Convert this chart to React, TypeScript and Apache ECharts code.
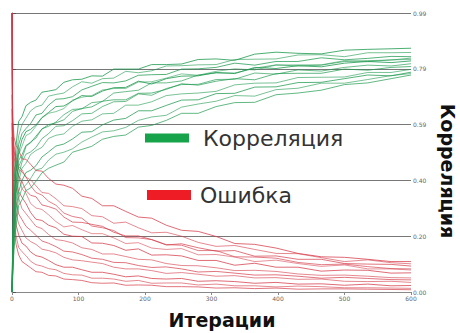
import React, { useEffect, useRef } from "react";
import * as echarts from "echarts";

// Iteration positions shared by all runs
const iterations = [0, 1, 3, 6, 10, 15, 21, 28, 36, 45, 55, 66, 78, 91, 105, 120, 136, 153, 171, 190, 210, 232, 255, 280, 307, 335, 365, 397, 430, 465, 500, 535, 570, 600];

// Correlation runs (green)
const corr1 = [0, 0.18, 0.38, 0.52, 0.605, 0.622, 0.661, 0.673, 0.681, 0.709, 0.713, 0.718, 0.744, 0.753, 0.755, 0.767, 0.766, 0.791, 0.791, 0.791, 0.807, 0.807, 0.809, 0.825, 0.827, 0.822, 0.844, 0.851, 0.847, 0.845, 0.858, 0.861, 0.863, 0.865];
const corr2 = [0, 0.15, 0.33, 0.47, 0.554, 0.594, 0.617, 0.643, 0.657, 0.663, 0.695, 0.701, 0.706, 0.728, 0.746, 0.741, 0.757, 0.759, 0.783, 0.778, 0.785, 0.802, 0.803, 0.806, 0.807, 0.825, 0.826, 0.827, 0.841, 0.842, 0.835, 0.849, 0.849, 0.85];
const corr3 = [0, 0.12, 0.30, 0.43, 0.523, 0.562, 0.58, 0.598, 0.628, 0.634, 0.663, 0.684, 0.686, 0.693, 0.717, 0.73, 0.743, 0.742, 0.749, 0.769, 0.771, 0.772, 0.791, 0.792, 0.797, 0.812, 0.805, 0.818, 0.818, 0.831, 0.824, 0.829, 0.836, 0.835];
const corr4 = [0, 0.10, 0.27, 0.39, 0.487, 0.517, 0.555, 0.564, 0.588, 0.618, 0.634, 0.64, 0.651, 0.681, 0.691, 0.697, 0.717, 0.722, 0.722, 0.745, 0.746, 0.759, 0.774, 0.769, 0.783, 0.792, 0.788, 0.805, 0.806, 0.806, 0.821, 0.817, 0.824, 0.825];
const corr5 = [0, 0.14, 0.31, 0.43, 0.496, 0.541, 0.569, 0.577, 0.593, 0.619, 0.637, 0.658, 0.66, 0.678, 0.697, 0.694, 0.713, 0.725, 0.726, 0.748, 0.738, 0.757, 0.766, 0.767, 0.779, 0.775, 0.797, 0.793, 0.803, 0.799, 0.812, 0.818, 0.814, 0.82];
const corr6 = [0, 0.09, 0.23, 0.35, 0.445, 0.472, 0.516, 0.533, 0.546, 0.579, 0.588, 0.603, 0.629, 0.648, 0.65, 0.672, 0.676, 0.706, 0.711, 0.716, 0.742, 0.742, 0.749, 0.77, 0.777, 0.777, 0.794, 0.806, 0.802, 0.805, 0.818, 0.821, 0.823, 0.83];
const corr7 = [0, 0.11, 0.27, 0.38, 0.467, 0.487, 0.52, 0.529, 0.553, 0.578, 0.594, 0.6, 0.611, 0.641, 0.651, 0.657, 0.677, 0.682, 0.682, 0.705, 0.706, 0.719, 0.739, 0.734, 0.748, 0.757, 0.753, 0.775, 0.776, 0.776, 0.791, 0.787, 0.797, 0.80];
const corr8 = [0, 0.08, 0.21, 0.32, 0.394, 0.439, 0.457, 0.488, 0.502, 0.513, 0.545, 0.556, 0.561, 0.588, 0.606, 0.611, 0.632, 0.634, 0.663, 0.663, 0.675, 0.697, 0.703, 0.706, 0.712, 0.735, 0.741, 0.742, 0.761, 0.762, 0.763, 0.779, 0.779, 0.79];
const corr9 = [0, 0.07, 0.19, 0.29, 0.356, 0.396, 0.424, 0.432, 0.448, 0.479, 0.497, 0.518, 0.525, 0.543, 0.567, 0.569, 0.593, 0.61, 0.616, 0.643, 0.643, 0.662, 0.681, 0.682, 0.704, 0.705, 0.727, 0.728, 0.743, 0.744, 0.757, 0.77, 0.767, 0.78];
const corr10 = [0, 0.06, 0.17, 0.26, 0.333, 0.367, 0.38, 0.403, 0.433, 0.439, 0.468, 0.489, 0.496, 0.508, 0.532, 0.55, 0.568, 0.572, 0.584, 0.609, 0.621, 0.627, 0.656, 0.667, 0.677, 0.697, 0.695, 0.718, 0.723, 0.741, 0.741, 0.754, 0.768, 0.775];
const corr11 = [0, 0.05, 0.15, 0.23, 0.307, 0.327, 0.36, 0.369, 0.393, 0.423, 0.439, 0.45, 0.461, 0.496, 0.506, 0.517, 0.542, 0.552, 0.557, 0.585, 0.591, 0.609, 0.634, 0.634, 0.658, 0.672, 0.673, 0.70, 0.706, 0.716, 0.736, 0.742, 0.757, 0.77];
const corr12 = [0, 0.10, 0.25, 0.35, 0.416, 0.461, 0.489, 0.497, 0.513, 0.544, 0.562, 0.588, 0.59, 0.608, 0.632, 0.634, 0.658, 0.675, 0.676, 0.703, 0.698, 0.722, 0.736, 0.737, 0.754, 0.755, 0.777, 0.773, 0.788, 0.784, 0.797, 0.805, 0.802, 0.81];

// Error runs (red)
const err1 = [0.99, 0.62, 0.55, 0.52, 0.505, 0.472, 0.471, 0.453, 0.431, 0.429, 0.403, 0.383, 0.379, 0.368, 0.34, 0.332, 0.306, 0.306, 0.286, 0.266, 0.262, 0.237, 0.219, 0.215, 0.197, 0.172, 0.169, 0.156, 0.137, 0.125, 0.123, 0.116, 0.108, 0.108];
const err2 = [0.99, 0.58, 0.52, 0.48, 0.444, 0.434, 0.407, 0.398, 0.377, 0.353, 0.35, 0.331, 0.306, 0.303, 0.296, 0.271, 0.267, 0.244, 0.248, 0.228, 0.21, 0.212, 0.198, 0.176, 0.162, 0.165, 0.151, 0.137, 0.136, 0.122, 0.108, 0.114, 0.104, 0.10];
const err3 = [0.99, 0.55, 0.48, 0.44, 0.413, 0.392, 0.36, 0.343, 0.338, 0.309, 0.303, 0.294, 0.266, 0.248, 0.247, 0.24, 0.233, 0.212, 0.199, 0.199, 0.186, 0.167, 0.171, 0.157, 0.145, 0.147, 0.127, 0.128, 0.116, 0.116, 0.101, 0.099, 0.098, 0.092];
const err4 = [0.99, 0.60, 0.50, 0.45, 0.407, 0.367, 0.35, 0.314, 0.298, 0.293, 0.274, 0.25, 0.231, 0.236, 0.221, 0.207, 0.207, 0.192, 0.172, 0.175, 0.156, 0.151, 0.154, 0.132, 0.133, 0.124, 0.108, 0.113, 0.101, 0.091, 0.096, 0.082, 0.082, 0.078];
const err5 = [0.70, 0.52, 0.45, 0.40, 0.356, 0.336, 0.314, 0.282, 0.258, 0.254, 0.237, 0.228, 0.205, 0.198, 0.197, 0.174, 0.173, 0.165, 0.148, 0.153, 0.131, 0.132, 0.128, 0.112, 0.112, 0.095, 0.102, 0.088, 0.088, 0.074, 0.078, 0.077, 0.067, 0.068];
const err6 = [0.99, 0.50, 0.42, 0.37, 0.333, 0.296, 0.278, 0.257, 0.233, 0.225, 0.204, 0.186, 0.182, 0.174, 0.157, 0.151, 0.135, 0.135, 0.126, 0.116, 0.114, 0.101, 0.094, 0.093, 0.086, 0.076, 0.077, 0.073, 0.064, 0.059, 0.06, 0.056, 0.051, 0.05];
const err7 = [0.65, 0.48, 0.38, 0.32, 0.277, 0.257, 0.233, 0.219, 0.201, 0.181, 0.173, 0.161, 0.145, 0.142, 0.133, 0.12, 0.116, 0.105, 0.104, 0.094, 0.087, 0.089, 0.082, 0.071, 0.073, 0.067, 0.06, 0.061, 0.056, 0.049, 0.052, 0.048, 0.044, 0.043];
const err8 = [0.99, 0.45, 0.34, 0.28, 0.242, 0.219, 0.192, 0.179, 0.169, 0.152, 0.147, 0.139, 0.123, 0.114, 0.111, 0.106, 0.101, 0.088, 0.082, 0.082, 0.076, 0.066, 0.069, 0.063, 0.056, 0.058, 0.05, 0.051, 0.045, 0.046, 0.038, 0.037, 0.038, 0.034];
const err9 = [0.60, 0.42, 0.30, 0.24, 0.203, 0.173, 0.163, 0.142, 0.129, 0.124, 0.112, 0.097, 0.088, 0.088, 0.079, 0.07, 0.07, 0.063, 0.054, 0.057, 0.048, 0.046, 0.048, 0.038, 0.04, 0.037, 0.031, 0.034, 0.028, 0.029, 0.024, 0.028, 0.022, 0.023];
const err10 = [0.99, 0.40, 0.27, 0.20, 0.158, 0.143, 0.129, 0.109, 0.097, 0.092, 0.083, 0.079, 0.066, 0.061, 0.06, 0.049, 0.049, 0.046, 0.038, 0.041, 0.031, 0.032, 0.032, 0.025, 0.028, 0.022, 0.022, 0.018, 0.021, 0.019, 0.015, 0.015, 0.014, 0.013];
const err11 = [0.55, 0.35, 0.23, 0.17, 0.132, 0.108, 0.098, 0.086, 0.072, 0.07, 0.059, 0.057, 0.046, 0.044, 0.041, 0.033, 0.031, 0.032, 0.024, 0.025, 0.024, 0.019, 0.019, 0.018, 0.014, 0.015, 0.012, 0.014, 0.01, 0.011, 0.011, 0.01, 0.009, 0.008];
const err12 = [0.99, 0.56, 0.50, 0.47, 0.436, 0.426, 0.409, 0.377, 0.353, 0.344, 0.322, 0.308, 0.28, 0.268, 0.262, 0.234, 0.228, 0.218, 0.193, 0.192, 0.186, 0.168, 0.166, 0.147, 0.147, 0.125, 0.124, 0.12, 0.105, 0.097, 0.099, 0.09, 0.083, 0.082];

const corrRuns = [corr1, corr2, corr3, corr4, corr5, corr6, corr7, corr8, corr9, corr10, corr11, corr12];
const errRuns = [err1, err2, err3, err4, err5, err6, err7, err8, err9, err10, err11, err12];

const corrName = "Корреляция";
const errName = "Ошибка";
const xTitle = "Итерации";
const yTitle = "Корреляция";

export default function App() {
  const ref = useRef<HTMLDivElement>(null);
  useEffect(() => {
    if (!ref.current) return;
    const chart = echarts.init(ref.current, null, { renderer: "svg" });
    const mk = (vals: number[], name: string, color: string, op: number) => ({
      type: "line",
      name,
      data: iterations.map((x, i) => [x, vals[i]]),
      showSymbol: false,
      symbol: "none",
      silent: true,
      color,
      lineStyle: { width: 1, color, opacity: op },
      itemStyle: { color },
    });
    const greenOps = [0.8, 0.6, 0.75, 0.55, 0.8, 0.65, 0.7, 0.6, 0.75, 0.6, 0.7, 0.65];
    const redOps = [0.75, 0.6, 0.7, 0.55, 0.75, 0.6, 0.7, 0.6, 0.75, 0.6, 0.7, 0.65];
    const series: any[] = [
      ...errRuns.map((r, i) => mk(r, errName, "#d43a48", redOps[i])),
      ...corrRuns.map((r, i) => mk(r, corrName, "#1f9a50", greenOps[i])),
    ];
    chart.setOption({
      animation: false,
      grid: { left: 12, right: 49, top: 13, bottom: 41, containLabel: false },
      xAxis: {
        type: "value",
        min: 0,
        max: 600,
        interval: 100,
        axisLine: { show: true, lineStyle: { color: "#888", width: 1 } },
        axisTick: { show: true, length: 3, lineStyle: { color: "#888" } },
        axisLabel: { fontSize: 6, color: "#666", margin: 3, fontFamily: "DejaVu Sans" },
        splitLine: { show: false },
      },
      yAxis: {
        type: "value",
        position: "right",
        min: 0,
        max: 0.99,
        interval: 0.198,
        axisLine: { show: true, lineStyle: { color: "#555", width: 1 } },
        axisTick: { show: true, length: 4, lineStyle: { color: "#555" } },
        axisLabel: {
          fontSize: 6,
          color: "#666",
          margin: 2,
          fontFamily: "DejaVu Sans",
          formatter: (v: number) => v.toFixed(2),
        },
        splitLine: { show: true, lineStyle: { color: "#777", width: 1 } },
      },
      legend: [
        {
          data: [{ name: corrName, itemStyle: { color: "#17a34a", opacity: 1 } }],
          left: 140,
          top: 122,
          icon: "rect",
          itemWidth: 44,
          itemHeight: 9,
          selectedMode: false,
          textStyle: { fontSize: 22, color: "#333", fontFamily: "DejaVu Sans", padding: [0, 0, 0, 9] },
        },
        {
          data: [{ name: errName, itemStyle: { color: "#ee1c25", opacity: 1 } }],
          left: 142,
          top: 179,
          icon: "rect",
          itemWidth: 44,
          itemHeight: 10,
          selectedMode: false,
          textStyle: { fontSize: 22, color: "#333", fontFamily: "DejaVu Sans", padding: [0, 0, 0, 4] },
        },
      ],
      graphic: [
        {
          type: "text",
          x: 222,
          y: 320,
          style: {
            text: xTitle,
            fontSize: 19,
            fontWeight: "bold",
            fontFamily: "DejaVu Sans",
            fill: "#111",
            align: "center",
            verticalAlign: "middle",
          },
        },
        {
          type: "text",
          x: 448,
          y: 171,
          rotation: -Math.PI / 2,
          style: {
            text: yTitle,
            fontSize: 19,
            fontWeight: "bold",
            fontFamily: "DejaVu Sans",
            fill: "#111",
            align: "center",
            verticalAlign: "middle",
          },
        },
      ],
      series,
    });
    return () => chart.dispose();
  }, []);
  return <div ref={ref} style={{ width: 460, height: 333, position: "absolute", left: 0, top: 0 }} />;
}
